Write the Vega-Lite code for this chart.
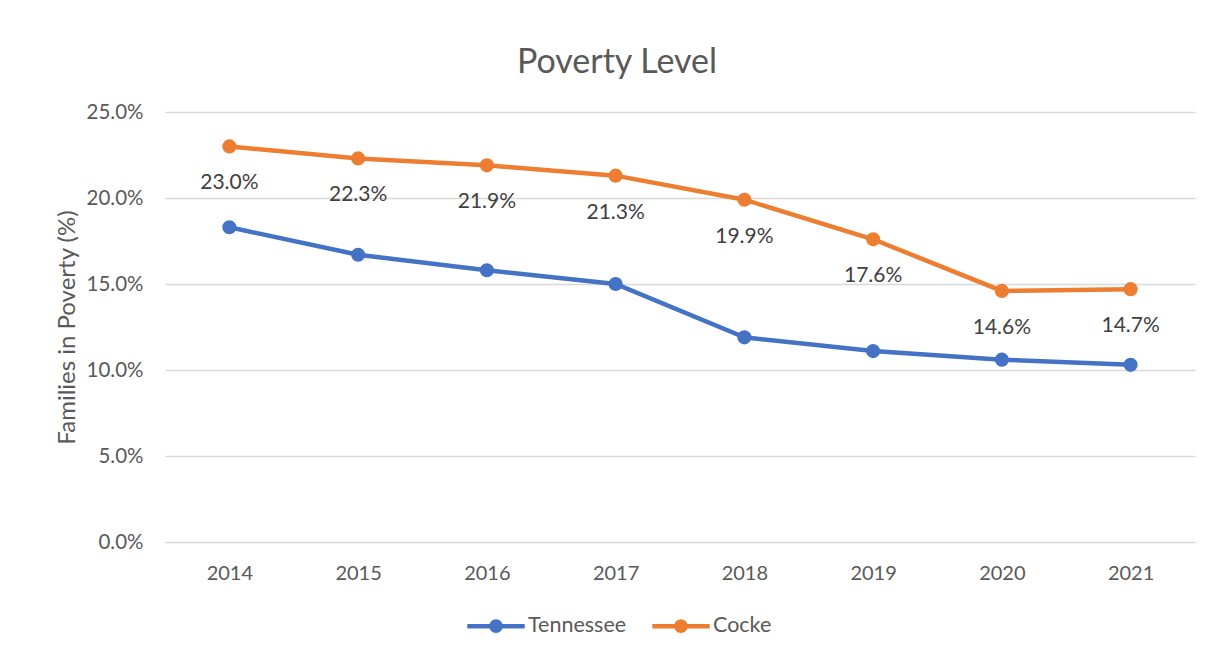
{
  "$schema": "https://vega.github.io/schema/vega-lite/v6.json",
  "width": 1030,
  "height": 430,
  "autosize": {"type": "none"},
  "padding": {"left": 165, "top": 112, "right": 20, "bottom": 116},
  "background": "white",
  "config": {
    "view": {"stroke": null},
    "font": "Lato",
    "axis": {"labelFont": "Lato", "titleFont": "Lato", "labelColor": "#595959", "titleColor": "#595959"}
  },
  "title": {
    "text": "Poverty Level",
    "fontSize": 34,
    "fontWeight": "normal",
    "color": "#595959",
    "anchor": "middle",
    "dx": -63,
    "offset": 22
  },
  "data": {
    "values": [
      {"year": "2014", "series": "Tennessee", "value": 0.183},
      {"year": "2015", "series": "Tennessee", "value": 0.167},
      {"year": "2016", "series": "Tennessee", "value": 0.158},
      {"year": "2017", "series": "Tennessee", "value": 0.150},
      {"year": "2018", "series": "Tennessee", "value": 0.119},
      {"year": "2019", "series": "Tennessee", "value": 0.111},
      {"year": "2020", "series": "Tennessee", "value": 0.106},
      {"year": "2021", "series": "Tennessee", "value": 0.103},
      {"year": "2014", "series": "Cocke", "value": 0.230},
      {"year": "2015", "series": "Cocke", "value": 0.223},
      {"year": "2016", "series": "Cocke", "value": 0.219},
      {"year": "2017", "series": "Cocke", "value": 0.213},
      {"year": "2018", "series": "Cocke", "value": 0.199},
      {"year": "2019", "series": "Cocke", "value": 0.176},
      {"year": "2020", "series": "Cocke", "value": 0.146},
      {"year": "2021", "series": "Cocke", "value": 0.147}
    ]
  },
  "encoding": {
    "x": {
      "field": "year",
      "type": "ordinal",
      "scale": {"type": "point", "padding": 0.5},
      "axis": {"title": null, "labelAngle": 0, "labelFontSize": 20, "labelPadding": 21, "ticks": false, "domain": false, "grid": false}
    },
    "y": {
      "field": "value",
      "type": "quantitative",
      "scale": {"domain": [0, 0.25]},
      "axis": {
        "title": "Families in Poverty (%)",
        "titleFontSize": 24,
        "titleFontWeight": "normal",
        "titlePadding": 7,
        "format": ".1%",
        "values": [0, 0.05, 0.1, 0.15, 0.2, 0.25],
        "labelFontSize": 20.5,
        "labelPadding": 22,
        "ticks": false,
        "domain": false,
        "gridColor": "#d9d9d9",
        "gridWidth": 1.3
      }
    }
  },
  "layer": [
    {
      "mark": {"type": "line", "strokeWidth": 4.5},
      "encoding": {
        "color": {
          "field": "series",
          "type": "nominal",
          "sort": ["Tennessee", "Cocke"],
          "scale": {"domain": ["Tennessee", "Cocke"], "range": ["#4472C4", "#ED7D31"]},
          "legend": {
            "title": null,
            "orient": "none",
            "direction": "horizontal",
            "legendX": 300,
            "legendY": 483,
            "labelFontSize": 21.5,
            "labelColor": "#595959",
            "labelOffset": 1,
            "columnPadding": 16,
            "symbolType": "M-1,0L1,0M-0.16,0A0.16,0.16 0 1,1 0.16,0A0.16,0.16 0 1,1 -0.16,0Z",
            "symbolSize": 3300,
            "symbolStrokeWidth": 4.5,
            "symbolOpacity": 1
          }
        }
      }
    },
    {
      "mark": {"type": "point", "filled": true, "size": 200, "opacity": 1},
      "encoding": {
        "color": {"field": "series", "type": "nominal", "legend": null}
      }
    },
    {
      "transform": [{"filter": "datum.series == 'Cocke'"}],
      "mark": {"type": "text", "dy": 37, "fontSize": 21, "color": "#404040"},
      "encoding": {
        "text": {"field": "value", "type": "quantitative", "format": ".1%"}
      }
    }
  ]
}
